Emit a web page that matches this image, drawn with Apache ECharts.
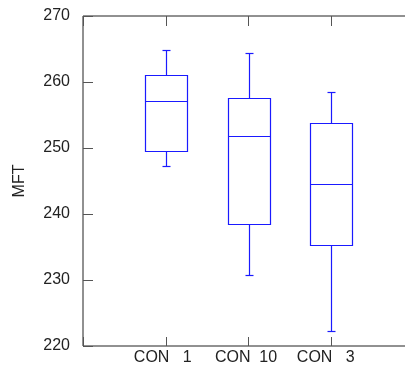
<!DOCTYPE html>
<html>
<head>
<meta charset="utf-8">
<script src="https://cdn.jsdelivr.net/npm/echarts@6/dist/echarts.min.js"></script>
<style>
    html, body { margin: 0; padding: 0; background: #fff; }
    #chart1 { width: 405px; height: 370px; }
</style>
</head>
<body>
<div id="chart1"></div>
<script>
// 类别 (两端留空位, 对齐原图的刻度位置)
const categories = ['', 'CON 1', 'CON 10', 'CON 3', '']
// 箱线图数值: [下须, Q1, 中位数, Q3, 上须]
const lowWhisker = [247.3, 230.7, 222.3]
const q1 = [249.6, 238.5, 235.3]
const median = [257.1, 251.8, 244.6]
const q3 = [261.0, 257.6, 253.8]
const highWhisker = [264.9, 264.4, 258.5]
const yTicks = { min: 220, max: 270, interval: 10 }

let boxData = []
for (let i = 0; i < median.length; i++) {
    boxData.push([i + 1, lowWhisker[i], q1[i], median[i], q3[i], highWhisker[i]])
}

const blue = '#1a1aff'
const axisColor = '#222'
const fontFamily = 'Liberation Sans, Arial, sans-serif'

function renderBox (params, api) {
    const x = api.value(0)
    const pLow = api.coord([x, api.value(1)])
    const pQ1 = api.coord([x, api.value(2)])
    const pMed = api.coord([x, api.value(3)])
    const pQ3 = api.coord([x, api.value(4)])
    const pHigh = api.coord([x, api.value(5)])
    const half = 21 // 箱子半宽
    const cap = 4 // 须端半宽
    const cx = Math.round(pMed[0]) + 0.5
    const line = (x1, y1, x2, y2) => ({
        type: 'line',
        shape: { x1: x1, y1: Math.round(y1) + 0.5, x2: x2, y2: Math.round(y2) + 0.5 },
        style: { stroke: blue, lineWidth: 1.2 }
    })
    return {
        type: 'group',
        children: [
            {
                type: 'rect',
                shape: { x: cx - half, y: Math.round(pQ3[1]) + 0.5, width: half * 2, height: Math.round(pQ1[1]) - Math.round(pQ3[1]) },
                style: { stroke: blue, lineWidth: 1.2, fill: '#fff' }
            },
            line(cx - half, pMed[1], cx + half, pMed[1]),
            line(cx, pQ3[1], cx, pHigh[1]),
            line(cx, pQ1[1], cx, pLow[1]),
            line(cx - cap, pHigh[1], cx + cap, pHigh[1]),
            line(cx - cap, pLow[1], cx + cap, pLow[1])
        ]
    }
}

// 原图标签的间距比较宽, 稍微往左偏
const labelRich = {
    s1: { fontSize: 16, fontFamily: fontFamily, color: axisColor, padding: [0, 6, 0, 0] },
    s2: { fontSize: 16, fontFamily: fontFamily, color: axisColor, padding: [0, 5, 0, 0] },
    s3: { fontSize: 16, fontFamily: fontFamily, color: axisColor, padding: [0, 11, 0, 0] }
}

const chart1 = echarts.init(document.getElementById('chart1'), null, { renderer: 'canvas' })
const option = {
    backgroundColor: '#fff',
    animation: false,
    grid: {
        left: 83,
        top: 16,
        width: 331,
        height: 330,
        outerBoundsMode: 'none',
        containLabel: false,
        show: true,
        borderColor: axisColor,
        borderWidth: 1,
        backgroundColor: 'transparent'
    },
    xAxis: [
        {
            type: 'category',
            data: categories,
            boundaryGap: false,
            position: 'bottom',
            axisLine: { show: false },
            axisTick: { show: true, inside: true, length: 9, lineStyle: { color: '#555' } },
            axisLabel: {
                color: axisColor,
                fontSize: 16,
                fontFamily: fontFamily,
                margin: 4,
                interval: 0,
                formatter: function (value, index) {
                    if (!value) return ''
                    const txt = value.replace(' ', value.length > 5 ? '  ' : '   ')
                    return '{s' + index + '|' + txt + '}'
                },
                rich: labelRich
            },
            splitLine: { show: false }
        },
        {
            type: 'category',
            data: categories,
            boundaryGap: false,
            position: 'top',
            axisLine: { show: false },
            axisTick: { show: true, inside: true, length: 10, lineStyle: { color: '#555' } },
            axisLabel: { show: false },
            splitLine: { show: false }
        }
    ],
    yAxis: [
        {
            type: 'value',
            min: yTicks.min,
            max: yTicks.max,
            interval: yTicks.interval,
            name: 'MFT',
            nameLocation: 'middle',
            nameGap: 55,
            nameRotate: 90,
            nameTextStyle: { color: axisColor, fontSize: 16, fontFamily: fontFamily },
            axisLine: { show: false },
            axisTick: { show: true, inside: true, length: 10, lineStyle: { color: '#555' } },
            axisLabel: { color: axisColor, fontSize: 16, fontFamily: fontFamily, margin: 13 },
            splitLine: { show: false }
        }
    ],
    series: [
        {
            name: 'MFT',
            type: 'custom',
            renderItem: renderBox,
            encode: { x: 0, y: [1, 2, 3, 4, 5] },
            data: boxData,
            clip: false
        }
    ]
}
chart1.setOption(option)
chart1.resize()
</script>
</body>
</html>
